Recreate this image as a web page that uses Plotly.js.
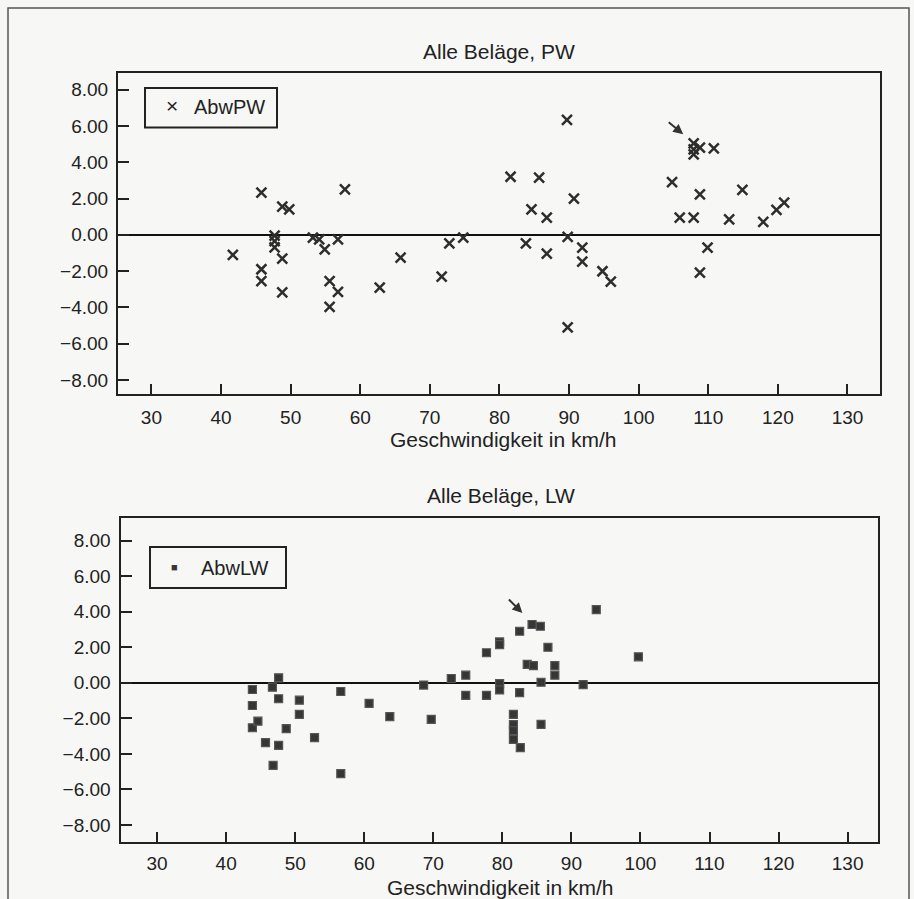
<!DOCTYPE html>
<html>
<head>
<meta charset="utf-8">
<script src="https://cdn.plot.ly/plotly-3.0.1.min.js"></script>
<style>html,body{margin:0;padding:0;background:#e8e8e6;}#chart{width:914px;height:899px;}</style>
</head>
<body>
<div id="chart"></div>
<script>
// Alle Beläge, PW
const pwSpeed = [41.7, 45.8, 45.8, 45.8, 47.7, 47.7, 47.7, 48.8, 49.8, 48.8, 48.8, 53.2, 54.1, 54.9, 55.6, 55.6, 56.8, 56.8, 57.8, 62.8, 65.8, 71.7, 72.8, 74.8,
  81.6, 85.7, 84.6, 86.8, 83.8, 86.8, 89.7, 90.7, 89.8, 91.9, 91.9, 94.8, 96.0, 89.8,
  104.8, 105.9, 107.9, 108.8, 107.9, 107.9, 107.9, 108.8, 110.8, 109.9, 108.8, 113.0, 114.9, 117.9, 119.8, 120.9];
const pwAbw = [-1.11, 2.32, -1.9, -2.55, -0.05, -0.35, -0.7, 1.55, 1.4, -1.31, -3.18, -0.15, -0.25, -0.8, -2.55, -3.98, -0.25, -3.15, 2.5, -2.91, -1.26, -2.3, -0.47, -0.15,
  3.2, 3.15, 1.4, 0.95, -0.47, -1.04, 6.33, 1.99, -0.12, -0.71, -1.48, -2.01, -2.58, -5.11,
  2.91, 0.95, 0.95, 2.23, 5.04, 4.71, 4.43, 4.8, 4.77, -0.71, -2.08, 0.85, 2.47, 0.71, 1.37, 1.77];

// Alle Beläge, LW
const lwSpeed = [43.8, 43.8, 43.8, 44.6, 45.7, 46.7, 47.6, 47.6, 47.6, 46.8, 48.7, 50.6, 50.6, 52.8, 56.6, 56.6, 60.7, 63.7, 68.6, 69.7, 72.6, 74.7, 74.7, 77.7, 77.7,
  79.6, 79.6, 79.6, 79.6, 82.5, 82.5, 81.6, 81.6, 81.6, 81.6, 82.6, 84.3, 85.5, 83.6, 84.5, 86.6, 85.6, 85.6, 87.6, 87.6, 91.7, 93.6, 99.7];
const lwAbw = [-0.38, -1.28, -2.53, -2.16, -3.37, -0.25, 0.28, -0.9, -3.52, -4.65, -2.58, -0.98, -1.78, -3.09, -0.49, -5.11, -1.16, -1.91, -0.13, -2.06, 0.24, 0.43, -0.71, -0.71, 1.69,
  2.3, 2.15, -0.05, -0.4, 2.9, -0.56, -1.78, -2.35, -2.7, -3.19, -3.65, 3.28, 3.18, 1.03, 0.97, 2.0, 0.03, -2.34, 0.97, 0.43, -0.1, 4.12, 1.46];

const xTicks = [30, 40, 50, 60, 70, 80, 90, 100, 110, 120, 130];
const yTicks = [-8, -6, -4, -2, 0, 2, 4, 6, 8];
const yTickText = ['\u22128.00', '\u22126.00', '\u22124.00', '\u22122.00', '0.00', '2.00', '4.00', '6.00', '8.00'];

const W = 914, H = 899;
const px = v => v / W;
const py = v => 1 - v / H;

const FONT = 'Liberation Sans, Arial, sans-serif';
const INK = '#222';
const BG = '#f7f7f5';

function xAxis(domain, range, anchor, standoff) {
  return {
    domain: domain, range: range, anchor: anchor,
    tickvals: xTicks, ticks: 'inside', ticklen: 10, tickwidth: 2, tickcolor: INK,
    showline: true, linecolor: INK, linewidth: 2, mirror: true,
    showgrid: false, zeroline: false,
    tickfont: {family: FONT, size: 19, color: INK},
    ticklabelstandoff: standoff
  };
}
function yAxis(domain, range, anchor) {
  return {
    domain: domain, range: range, anchor: anchor,
    tickvals: yTicks, ticktext: yTickText, ticks: 'inside', ticklen: 11, tickwidth: 2, tickcolor: INK,
    showline: true, linecolor: INK, linewidth: 2, mirror: true,
    showgrid: false, zeroline: true, zerolinecolor: '#111', zerolinewidth: 2,
    tickfont: {family: FONT, size: 19, color: INK},
    ticklabelstandoff: 4
  };
}

const traces = [
  {
    x: pwSpeed, y: pwAbw, type: 'scatter', mode: 'markers', name: 'AbwPW',
    xaxis: 'x', yaxis: 'y', showlegend: false,
    marker: {symbol: 'x-thin', size: 10, line: {width: 2.5, color: '#2e2e2e'}, color: '#2e2e2e'}
  },
  {
    x: lwSpeed, y: lwAbw, type: 'scatter', mode: 'markers', name: 'AbwLW',
    xaxis: 'x2', yaxis: 'y2', showlegend: false,
    marker: {symbol: 'square', size: 8, color: '#363636', line: {width: 1.2, color: '#555'}}
  }
];

const layout = {
  width: W, height: H,
  margin: {l: 0, r: 0, t: 0, b: 0},
  paper_bgcolor: BG,
  plot_bgcolor: BG,
  showlegend: false,
  font: {family: FONT, color: INK},
  xaxis: xAxis([px(118), px(879.5)], [25.2, 134.6], 'y', 6),
  yaxis: yAxis([py(393.5), py(73)], [-8.75, 8.92], 'x'),
  xaxis2: xAxis([px(120.5), px(878)], [24.7, 134.4], 'y2', 3),
  yaxis2: yAxis([py(842), py(517.5)], [-8.96, 9.3], 'x2'),
  shapes: [
    {type: 'rect', xref: 'paper', yref: 'paper', x0: px(8), x1: px(909), y0: py(905), y1: py(8),
     line: {color: '#555', width: 1.5}, fillcolor: 'rgba(0,0,0,0)', layer: 'below'},
    // legend boxes
    {type: 'rect', xref: 'paper', yref: 'paper', x0: px(145), x1: px(277), y0: py(127.5), y1: py(88),
     line: {color: INK, width: 2}, fillcolor: BG},
    {type: 'rect', xref: 'paper', yref: 'paper', x0: px(150), x1: px(286), y0: py(588), y1: py(547),
     line: {color: INK, width: 2}, fillcolor: BG}
  ],
  annotations: [
    {text: 'Alle Beläge, PW', xref: 'paper', yref: 'paper', x: px(499), y: py(52), showarrow: false,
     xanchor: 'center', yanchor: 'middle', font: {family: FONT, size: 21, color: INK}},
    {text: 'Geschwindigkeit in km/h', xref: 'paper', yref: 'paper', x: px(503), y: py(440), showarrow: false,
     xanchor: 'center', yanchor: 'middle', font: {family: FONT, size: 21, color: INK}},
    {text: 'Alle Beläge, LW', xref: 'paper', yref: 'paper', x: px(501), y: py(495), showarrow: false,
     xanchor: 'center', yanchor: 'middle', font: {family: FONT, size: 21, color: INK}},
    {text: 'Geschwindigkeit in km/h', xref: 'paper', yref: 'paper', x: px(500), y: py(887), showarrow: false,
     xanchor: 'center', yanchor: 'middle', font: {family: FONT, size: 21, color: INK}},
    // legend labels
    {text: '\u00d7', xref: 'paper', yref: 'paper', x: px(172), y: py(106), showarrow: false,
     xanchor: 'center', yanchor: 'middle', font: {family: FONT, size: 21, color: INK}},
    {text: 'AbwPW', xref: 'paper', yref: 'paper', x: px(192), y: py(107), showarrow: false,
     xanchor: 'left', yanchor: 'middle', font: {family: FONT, size: 20, color: INK}},
    {text: '\u25a0', xref: 'paper', yref: 'paper', x: px(174), y: py(567), showarrow: false,
     xanchor: 'center', yanchor: 'middle', font: {family: FONT, size: 11, color: '#363636'}},
    {text: 'AbwLW', xref: 'paper', yref: 'paper', x: px(199), y: py(568), showarrow: false,
     xanchor: 'left', yanchor: 'middle', font: {family: FONT, size: 20, color: INK}},
    // arrows
    {xref: 'x', yref: 'y', x: 106.4, y: 5.55, ax: -16, ay: -13, text: '', showarrow: true,
     arrowhead: 2, arrowsize: 1, arrowwidth: 2, arrowcolor: '#333'},
    {xref: 'x2', yref: 'y2', x: 82.9, y: 3.93, ax: -15, ay: -15, text: '', showarrow: true,
     arrowhead: 2, arrowsize: 1, arrowwidth: 2, arrowcolor: '#333'}
  ]
};

Plotly.newPlot('chart', traces, layout, {displayModeBar: false, staticPlot: true});
</script>
</body>
</html>
